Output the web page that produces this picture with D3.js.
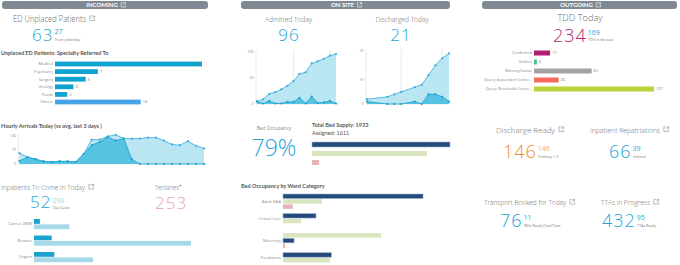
<!DOCTYPE html>
<html>
<head>
<meta charset="utf-8">
<title>Patient Flow Dashboard</title>
<style>
  body {margin: 0; background: #fff;}
  svg {display: block; font-family: "Open Sans", "Lato", sans-serif;}
  .hdr {fill: #fff; font-family: "Lato", sans-serif; font-weight: bold; font-size: 6px;}
  .title {fill: #6b6b6b; font-weight: 300;}
  .sub {fill: #555; font-family: "Lato", sans-serif; font-weight: bold; font-size: 5.5px;}
  .big {font-weight: 300;}
  .sup {font-weight: 400;}
  .note {fill: #777; font-size: 3.5px;}
  .lbl {fill: #888; font-size: 4px;}
  .val {fill: #777; font-size: 4px;}
</style>
</head>
<body>
<svg width="680" height="265"></svg>
<script src="https://d3js.org/d3.v7.min.js"></script>
<script>
// ---- data ----
const sections = ["INCOMING", "ON SITE", "OUTGOING"];

const specialties = ["Medical", "Psychiatry", "Surgery", "Urology", "Paeds", "Others"];
const specialtyCounts = [24, 7, 5, 3, 2, 14];

const hours = [0,1,2,3,4,5,6,7,8,9,10,11,12,13,14,15,16,17,18,19,20,21,22,23];
const arrivalsToday = [16,34,24,13,10,13,13,10,50,94,110,135,117,127,24,0,0,0,0,0,0,0,0,0];
const arrivalsAvg = [54,34,24,13,10,13,13,10,50,122,122,138,146,127,127,127,132,132,117,98,94,114,91,78];
const arrivalTicks = [0, 70, 140];

const admissionTypes = ["Cancer 2WW", "Routine", "Urgent"];
const inpatientsToday = [7, 21, 24];
const dayCases = [42, 186, 70];

const admittedHours = [0,1,2,3,4,5,6,7,8,9,10,11,12,13];
const admittedTotal = [5,9,19,23,28,35,44,58,61,78,82,87,93,96];
const admittedHourly = [5,1,6,1,1,4,4,12,1,14,2,3,6,1];
const admittedTicks = [0, 50, 100];
const admittedMarks = [6, 12];

const dischargedHours = [0,3,4,5,7,8,9,10,11,12];
const dischargedTotal = [2,3,4,5,7,8,12,16,19,21];
const dischargedHourly = [1,0,0,0,1,0,4,4,3,1];
const dischargedTicks = [0, 10, 22];
const dischargedMarks = [5, 11];

const bedOccupancy = 0.79;
const bedKeys = ["supply", "assigned", "blocked"];
const bedTotals = [1933, 1611, 100];

const wards = ["Adult G&A", "Critical Care", "Maternity", "Paediatrics"];
const wardSupply = [1167, 275, 92, 404];
const wardAssigned = [325, 150, 817, 392];
const wardBlocked = [81, 0, 17, 0];
const wardOrder = [
  ["supply", "assigned", "blocked"],
  ["supply", "assigned"],
  ["assigned", "supply", "blocked"],
  ["supply", "assigned"]
];

const tddStatus = ["Confirmed", "Golden", "Missing Status", "Query dependent (exter...", "Query Resolvable (inter..."];
const tddCounts = [17, 3, 61, 26, 127];

// ---- styles ----
const blue = "#23a4d8";
const bedColor = d3.scaleOrdinal().domain(bedKeys).range(["#244a7c", "#d8e5bf", "#e8b3b7"]);
const tddColor = d3.scaleOrdinal().domain(tddStatus).range(["#b01f6e", "#45c38b", "#a3a3a3", "#f46b5c", "#b8d43a"]);

const svg = d3.select("svg");

function icon(g, x, y, s, color) {
  g.append("path")
    .attr("transform", `translate(${x},${y}) scale(${s / 7})`)
    .attr("d", "M3,0.5 H0.5 V6.5 H6.5 V4 M4,0.5 H6.5 V3 M6.5,0.5 L3.5,3.5")
    .attr("fill", "none")
    .attr("stroke", color)
    .attr("stroke-width", 0.6 * 7 / s);
}

function text(x, y, t, cls, anchor) {
  return svg.append("text").attr("x", x).attr("y", y)
    .attr("class", cls).attr("text-anchor", anchor || "start").text(t);
}

// light title; the dashboard font is narrow, so squeeze it to the measured width
function title(x, y, t, anchor, withIcon, size, width) {
  const el = text(x, y, t, "title", anchor).style("font-size", size + "px")
    .attr("textLength", width).attr("lengthAdjust", "spacingAndGlyphs");
  if (withIcon) {
    const end = anchor === "middle" ? x + width / 2 : x + width;
    icon(svg, end + 3.5, y - 6, 5.5, "#8a8a8a");
  }
  return el;
}

function kpi(x, y, value, color, size, sup, supColor, note, supDy, noteDy) {
  const el = svg.append("text").attr("x", x).attr("y", y).attr("class", "big")
    .style("font-size", size + "px").attr("fill", color).attr("letter-spacing", 1).text(value);
  if (sup) {
    const w = el.node().getComputedTextLength();
    text(x + w + 1, y - (supDy || 7), sup, "sup").attr("fill", supColor).style("font-size", "7px");
    text(x + w + 1.5, y + (noteDy || -0.5), note, "note");
  }
}

// ---- section headers ----
const hdrX = d3.scaleOrdinal().domain(sections).range([[2, 208], [241, 450], [482, 677]]);
sections.forEach(s => {
  const [a, b] = hdrX(s);
  svg.append("rect").attr("x", a).attr("y", 1).attr("width", b - a).attr("height", 8)
    .attr("rx", 3).attr("fill", "#7e8994");
  const t = text((a + b) / 2 - 3, 7.2, s, "hdr", "middle");
  const w = t.node().getComputedTextLength();
  icon(svg, (a + b) / 2 - 3 + w / 2 + 3, 2.3, 5, "#fff");
});

// ---- INCOMING ----
title(13, 21.5, "ED Unplaced Patients", "start", true, 8.5, 73);
kpi(32, 41, "63", blue, 17, "27", blue, "From yesterday");
text(1, 55, "Unplaced ED Patients: Specialty Referred To", "sub");

const spY = d3.scalePoint().domain(specialties).range([64, 102]);
const spX = d3.scaleLinear().domain([0, 24]).range([55, 202]);
specialties.forEach((c, i) => {
  const v = specialtyCounts[i];
  const cy = spY(c);
  text(53, cy + 1.4, c, "lbl", "end");
  svg.append("rect").attr("x", spX(0)).attr("y", cy - 2.4)
    .attr("width", spX(v) - spX(0)).attr("height", 4.8)
    .attr("fill", c === "Others" ? "#47a3e6" : "#0fa3cf");
  if (spX(v) - spX(0) > 100) {
    text(spX(v) - 1.5, cy + 1.4, v, "val", "end").attr("fill", "#fff");
  } else {
    text(spX(v) + 2, cy + 1.4, v, "val");
  }
});

function areaChart(cfg) {
  const x = d3.scaleLinear().domain(cfg.xDomain).range(cfg.xRange);
  const y = d3.scaleLinear().domain(cfg.yDomain).range(cfg.yRange);
  const g = svg.append("g");
  g.append("line").attr("x1", cfg.xRange[0] - 1).attr("x2", cfg.xRange[0] - 1)
    .attr("y1", cfg.yRange[1] - 2).attr("y2", cfg.yRange[0]).attr("stroke", "#ddd").attr("stroke-width", 0.6);
  g.append("line").attr("x1", cfg.xRange[0] - 1).attr("x2", cfg.xRange[1] + 3)
    .attr("y1", cfg.yRange[0]).attr("y2", cfg.yRange[0]).attr("stroke", "#ddd").attr("stroke-width", 0.6);
  (cfg.marks || []).forEach(m => {
    g.append("line").attr("x1", x(m)).attr("x2", x(m))
      .attr("y1", cfg.yRange[1] - 2).attr("y2", cfg.yRange[0]).attr("stroke", "#d8d8d8").attr("stroke-width", 0.6);
  });
  cfg.ticks.forEach(t => {
    text(cfg.xRange[0] - 3.5, y(t) + 1.4, t, "lbl", "end").style("font-size", "3.6px");
  });
  const layers = [
    {vals: cfg.light, fill: "#b2e2f1", stroke: "#35ade0"},
    {vals: cfg.dark, fill: "#4cbfe1", stroke: "#1b9fcf"}
  ];
  layers.forEach(l => {
    const pts = cfg.xs.map((h, i) => [h, l.vals[i]]);
    g.append("path").datum(pts)
      .attr("d", d3.area().x(d => x(d[0])).y0(y(0)).y1(d => y(d[1])))
      .attr("fill", l.fill).attr("fill-opacity", 0.9);
    g.append("path").datum(pts)
      .attr("d", d3.line().x(d => x(d[0])).y(d => y(d[1])))
      .attr("fill", "none").attr("stroke", l.stroke).attr("stroke-width", 0.8);
    g.selectAll(null).data(pts).enter().append("circle")
      .attr("cx", d => x(d[0])).attr("cy", d => y(d[1])).attr("r", 1.1)
      .attr("fill", l.stroke);
  });
}

text(1, 128, "Hourly Arrivals Today (vs avg. last 3 days )", "sub");
areaChart({
  xs: hours, light: arrivalsAvg, dark: arrivalsToday, ticks: arrivalTicks,
  xDomain: [0, 23], xRange: [19.5, 204], yDomain: [0, 140], yRange: [164, 136]
});

title(1, 190, "Inpatients To Come In Today", "start", true, 8, 84);
kpi(30, 208, "52", blue, 17, "298", "#a9d8ea", "Day Cases", 5.5, 0.8);
title(155, 190, "Tertiaries*", "start", false, 8, 27);
kpi(155, 209, "253", "#e8a1a3", 17);

const ipY = d3.scalePoint().domain(admissionTypes).range([219, 252]);
const ipX = d3.scaleLinear().domain([0, 186]).range([34, 191]);
admissionTypes.forEach((c, i) => {
  const top = ipY(c);
  text(32, top + 6, c, "lbl", "end");
  svg.append("rect").attr("x", ipX(0)).attr("y", top).attr("height", 4.8)
    .attr("width", ipX(inpatientsToday[i]) - ipX(0)).attr("fill", "#1ba3d0");
  svg.append("rect").attr("x", ipX(0)).attr("y", top + 5.4).attr("height", 4.8)
    .attr("width", ipX(dayCases[i]) - ipX(0)).attr("fill", "#a6d8e8");
});

// ---- ON SITE ----
title(288.5, 21.5, "Admitted Today", "middle", false, 8, 47);
svg.append("text").attr("x", 289).attr("y", 41).attr("text-anchor", "middle").attr("class", "big")
  .style("font-size", "17px").attr("letter-spacing", 1).attr("fill", blue).text(admittedTotal[admittedTotal.length - 1]);
title(402, 21.5, "Discharged Today", "middle", false, 8, 53);
svg.append("text").attr("x", 401).attr("y", 41).attr("text-anchor", "middle").attr("class", "big")
  .style("font-size", "17px").attr("letter-spacing", 1).attr("fill", blue).text(dischargedTotal[dischargedTotal.length - 1]);

areaChart({
  xs: admittedHours, light: admittedTotal, dark: admittedHourly, ticks: admittedTicks, marks: admittedMarks,
  xDomain: [0, 13], xRange: [257, 336], yDomain: [0, 100], yRange: [104, 52]
});
areaChart({
  xs: dischargedHours, light: dischargedTotal, dark: dischargedHourly, ticks: dischargedTicks, marks: dischargedMarks,
  xDomain: [0, 12], xRange: [367, 449], yDomain: [0, 22], yRange: [104, 51]
});

text(274, 129.5, "Bed Occupancy", "lbl", "middle").style("font-size", "4.8px");
svg.append("text").attr("x", 274).attr("y", 155.5).attr("text-anchor", "middle").attr("class", "big")
  .style("font-size", "23px").attr("fill", blue)
  .text(d3.format(".0%")(bedOccupancy));
text(312, 127, "Total Bed Supply: " + bedTotals[0], "sub");
text(312, 134.5, "Assigned: " + bedTotals[1], "sub").attr("fill", "#aaa").style("font-weight", "normal");

const totY = d3.scalePoint().domain(bedKeys).range([142, 160]);
const totX = d3.scaleLinear().domain([0, 1933]).range([312, 450]);
bedKeys.forEach((k, i) => {
  svg.append("rect").attr("x", totX(0)).attr("y", totY(k)).attr("height", 5)
    .attr("width", totX(bedTotals[i]) - totX(0)).attr("fill", bedColor(k))
    .attr("stroke", k === "supply" ? "#9fb2cc" : "none").attr("stroke-width", 0.6);
});

text(241, 188, "Bed Occupancy by Ward Category", "sub");
const wardY = d3.scalePoint().domain(wards).range([194, 252.7]);
const wardX = d3.scaleLinear().domain([0, 1200]).range([283, 427]);
const wardVals = {supply: wardSupply, assigned: wardAssigned, blocked: wardBlocked};
wards.forEach((w, i) => {
  const top = wardY(w);
  const order = wardOrder[i];
  text(281, top + order.length * 5.2 / 2 + 1.2, w, "lbl", "end");
  order.forEach((k, j) => {
    svg.append("rect").attr("x", wardX(0)).attr("y", top + j * 5.2).attr("height", 4.5)
      .attr("width", wardX(wardVals[k][i]) - wardX(0)).attr("fill", bedColor(k))
      .attr("stroke", k === "supply" ? "#9fb2cc" : "none").attr("stroke-width", 0.6);
  });
});

// ---- OUTGOING ----
title(580, 21, "TDD Today", "middle", false, 9.5, 45);
kpi(553, 41.5, "234", "#b01f6e", 18, "169", blue, "TDD in the past");

const tddY = d3.scalePoint().domain(tddStatus).range([53, 89]);
const tddX = d3.scaleLinear().domain([0, 127]).range([534, 654]);
tddStatus.forEach((c, i) => {
  const cy = tddY(c);
  text(532, cy + 1.4, c, "lbl", "end");
  svg.append("rect").attr("x", tddX(0)).attr("y", cy - 2.5).attr("height", 5)
    .attr("width", tddX(tddCounts[i]) - tddX(0)).attr("fill", tddColor(c));
  text(tddX(tddCounts[i]) + 2, cy + 1.4, tddCounts[i], "val");
});

title(496, 132.5, "Discharge Ready", "start", true, 8, 59);
kpi(503, 158, "146", "#f28a26", 18, "146", "#f5ae72", "Pathway 1-3");
title(590, 132.5, "Inpatient Repatriations", "start", true, 7.8, 70);
kpi(609, 158, "66", blue, 18, "39", blue, "Internal");
title(484, 205, "Transport Booked for Today", "start", true, 7.5, 82);
kpi(500, 227, "76", blue, 18, "11", blue, "With Ready Date/Time");
title(601, 205, "TTAs in Progress", "start", true, 7.5, 49);
kpi(602, 227, "432", blue, 18, "95", blue, "TTAs Ready");
</script>
</body>
</html>
